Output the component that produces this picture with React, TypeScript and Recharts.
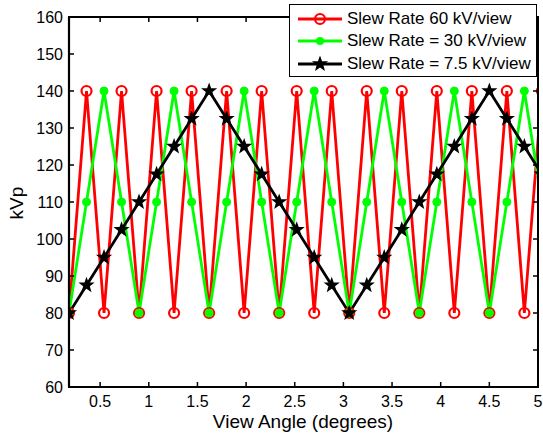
import React from "react";
import { LineChart, Line, XAxis, YAxis } from "recharts";

const viewAngles = [
  0.18, 0.36, 0.54, 0.72, 0.9, 1.08, 1.26, 1.44, 1.62, 1.8, 1.98, 2.16, 2.34, 2.52,
  2.7, 2.88, 3.06, 3.24, 3.42, 3.6, 3.78, 3.96, 4.14, 4.32, 4.5, 4.68, 4.86, 5.04,
];

const slew60 = [
  80, 140, 80, 140, 80, 140, 80, 140, 80, 140, 80, 140, 80, 140,
  80, 140, 80, 140, 80, 140, 80, 140, 80, 140, 80, 140, 80, 140,
];

const slew30 = [
  80, 110, 140, 110, 80, 110, 140, 110, 80, 110, 140, 110, 80, 110,
  140, 110, 80, 110, 140, 110, 80, 110, 140, 110, 80, 110, 140, 110,
];

const slew75 = [
  80, 87.5, 95, 102.5, 110, 117.5, 125, 132.5, 140, 132.5, 125, 117.5, 110, 102.5,
  95, 87.5, 80, 87.5, 95, 102.5, 110, 117.5, 125, 132.5, 140, 132.5, 125, 117.5,
];

const xTicks = [0.5, 1, 1.5, 2, 2.5, 3, 3.5, 4, 4.5, 5];
const yTicks = [60, 70, 80, 90, 100, 110, 120, 130, 140, 150, 160];
const xDomain = [0.18, 5];
const yDomain = [60, 160];

const legendLabels = [
  "Slew Rate 60 kV/view",
  "Slew Rate = 30 kV/view",
  "Slew Rate = 7.5 kV/view",
];

const FONT = "'Liberation Sans', Arial, sans-serif";
const RED = "#ff0000";
const GREEN = "#00ff00";
const BLACK = "#000000";

// plot box edges, from the chart margins and axis sizes below
const PLOT_LEFT = 69;
const PLOT_RIGHT = 538;
const PLOT_TOP = 17;
const PLOT_BOTTOM = 387;
const TICK_LEN = 5;
const FRAME_W = 2;
const TICK_W = 1.5;

const data = viewAngles.map((angle, i) => ({
  angle,
  r60: slew60[i],
  r30: slew30[i],
  r75: slew75[i],
}));

const starPoints = (cx: number, cy: number, outer: number, inner: number) => {
  const pts: string[] = [];
  for (let i = 0; i < 10; i++) {
    const r = i % 2 === 0 ? outer : inner;
    const a = -Math.PI / 2 + (i * Math.PI) / 5;
    pts.push(`${cx + r * Math.cos(a)},${cy + r * Math.sin(a)}`);
  }
  return pts.join(" ");
};

const RedCircle = (props: any) => {
  const { cx, cy, index } = props;
  return (
    <circle key={`r-${index}`} cx={cx} cy={cy} r={5} fill="none" stroke={RED} strokeWidth={2.2} />
  );
};

const GreenDot = (props: any) => {
  const { cx, cy, index } = props;
  return <circle key={`g-${index}`} cx={cx} cy={cy} r={4} fill={GREEN} stroke={GREEN} />;
};

const BlackStar = (props: any) => {
  const { cx, cy, index } = props;
  return <polygon key={`b-${index}`} points={starPoints(cx, cy, 8.5, 3.5)} fill={BLACK} />;
};

const XTick = (props: any) => {
  const { x, payload } = props;
  return (
    <g>
      <rect x={x - TICK_W / 2} y={PLOT_BOTTOM - TICK_LEN} width={TICK_W} height={TICK_LEN} fill={BLACK} />
      <rect x={x - TICK_W / 2} y={PLOT_TOP} width={TICK_W} height={TICK_LEN} fill={BLACK} />
      <text x={x} y={PLOT_BOTTOM + 20} textAnchor="middle" fontSize={16} fontFamily={FONT} fill={BLACK}>
        {payload.value}
      </text>
    </g>
  );
};

const YTick = (props: any) => {
  const { y, payload } = props;
  return (
    <g>
      <rect x={PLOT_LEFT} y={y - TICK_W / 2} width={TICK_LEN} height={TICK_W} fill={BLACK} />
      <rect x={PLOT_RIGHT - TICK_LEN} y={y - TICK_W / 2} width={TICK_LEN} height={TICK_W} fill={BLACK} />
      <text x={PLOT_LEFT - 6} y={y + 6} textAnchor="end" fontSize={16} fontFamily={FONT} fill={BLACK}>
        {payload.value}
      </text>
    </g>
  );
};

// axes box drawn as filled bars round the plot area
const Frame = () => {
  const w = PLOT_RIGHT - PLOT_LEFT;
  const h = PLOT_BOTTOM - PLOT_TOP;
  const half = FRAME_W / 2;
  return (
    <svg
      width={543}
      height={435}
      style={{ position: "absolute", left: 0, top: 0, pointerEvents: "none" }}
    >
      <polygon
        points={`${PLOT_LEFT - half},${PLOT_TOP - half} ${PLOT_RIGHT + half},${PLOT_TOP - half} ${PLOT_RIGHT + half},${PLOT_TOP + half} ${PLOT_LEFT - half},${PLOT_TOP + half}`}
        fill={BLACK}
      />
      <polygon
        points={`${PLOT_LEFT - half},${PLOT_BOTTOM - half} ${PLOT_RIGHT + half},${PLOT_BOTTOM - half} ${PLOT_RIGHT + half},${PLOT_BOTTOM + half} ${PLOT_LEFT - half},${PLOT_BOTTOM + half}`}
        fill={BLACK}
      />
      <polygon
        points={`${PLOT_LEFT - half},${PLOT_TOP - half} ${PLOT_LEFT + half},${PLOT_TOP - half} ${PLOT_LEFT + half},${PLOT_TOP + h + half} ${PLOT_LEFT - half},${PLOT_TOP + h + half}`}
        fill={BLACK}
      />
      <polygon
        points={`${PLOT_LEFT + w - half},${PLOT_TOP - half} ${PLOT_LEFT + w + half},${PLOT_TOP - half} ${PLOT_LEFT + w + half},${PLOT_TOP + h + half} ${PLOT_LEFT + w - half},${PLOT_TOP + h + half}`}
        fill={BLACK}
      />
    </svg>
  );
};

const LegendBox = () => {
  const colors = [RED, GREEN, BLACK];
  return (
    <div
      style={{
        position: "absolute",
        left: 289,
        top: 4,
        width: 246,
        height: 68,
        border: "1px solid #000",
        background: "#fff",
        paddingTop: 3,
        fontFamily: FONT,
        fontSize: 17,
      }}
    >
      {legendLabels.map((label, i) => (
        <div key={label} style={{ display: "flex", alignItems: "center", height: 22.3 }}>
          <svg width={57} height={22} style={{ flex: "none" }}>
            <line x1={8} y1={11} x2={52} y2={11} stroke={colors[i]} strokeWidth={2.8} />
            {i === 0 && <circle cx={30} cy={11} r={5} fill="none" stroke={RED} strokeWidth={2.2} />}
            {i === 1 && <circle cx={30} cy={11} r={4} fill={GREEN} />}
            {i === 2 && <polygon points={starPoints(30, 11, 8.5, 3.5)} fill={BLACK} />}
          </svg>
          <span style={{ whiteSpace: "nowrap", color: "#000" }}>{label}</span>
        </div>
      ))}
    </div>
  );
};

export default function App() {
  return (
    <div style={{ position: "absolute", left: 0, top: 0, width: 543, height: 435, background: "#fff" }}>
      <LineChart
        width={543}
        height={435}
        data={data}
        margin={{ top: PLOT_TOP, right: 543 - PLOT_RIGHT, left: 0, bottom: 0 }}
      >
        <XAxis
          dataKey="angle"
          type="number"
          domain={xDomain}
          ticks={xTicks}
          allowDataOverflow
          height={435 - PLOT_BOTTOM}
          axisLine={{ stroke: BLACK, strokeWidth: 2.2 }}
          tickLine={false}
          tick={<XTick />}
          label={() => (
            <text x={303} y={428} textAnchor="middle" fontSize={19} fontFamily={FONT} fill={BLACK}>
              View Angle (degrees)
            </text>
          )}
        />
        <YAxis
          type="number"
          domain={yDomain}
          ticks={yTicks}
          allowDataOverflow
          width={PLOT_LEFT}
          axisLine={{ stroke: BLACK, strokeWidth: 2.2 }}
          tickLine={false}
          tick={<YTick />}
          label={() => (
            <text
              transform="translate(23,203) rotate(-90)"
              textAnchor="middle"
              fontSize={19}
              fontFamily={FONT}
              fill={BLACK}
            >
              kVp
            </text>
          )}
        />
        <Line
          dataKey="r60"
          stroke={RED}
          strokeWidth={2.8}
          dot={RedCircle}
          isAnimationActive={false}
        />
        <Line
          dataKey="r30"
          stroke={GREEN}
          strokeWidth={2.8}
          dot={GreenDot}
          isAnimationActive={false}
        />
        <Line
          dataKey="r75"
          stroke={BLACK}
          strokeWidth={2.8}
          dot={BlackStar}
          isAnimationActive={false}
        />
      </LineChart>
      <Frame />
      <LegendBox />
    </div>
  );
}
